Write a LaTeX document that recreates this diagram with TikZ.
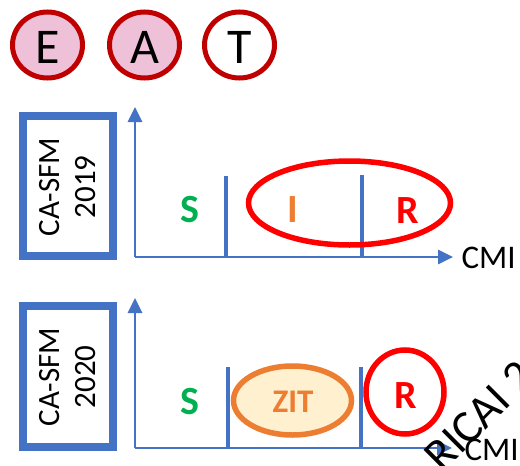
\documentclass[tikz,border=0pt]{standalone}
\usepackage{fontspec}
\setmainfont{Carlito}
\usetikzlibrary{arrows.meta}
\definecolor{axisblue}{HTML}{4472C4}
\definecolor{darkred}{HTML}{C00000}
\definecolor{pinkfill}{HTML}{EFC1D9}
\definecolor{sgreen}{HTML}{00B050}
\definecolor{iorange}{HTML}{ED7D31}
\definecolor{zitfill}{HTML}{FFF0CF}
\definecolor{rred}{HTML}{FF0000}
\tikzset{
  x=1pt, y=-1pt,
  axis/.style={draw=axisblue, line width=2.8pt, -{Triangle[length=15pt,width=14pt]}},
  divider/.style={draw=axisblue, line width=4.5pt},
  frame/.style={draw=axisblue, line width=8pt},
  boxlabel/.style={rotate=90, align=center, font=\fontsize{31}{36}\selectfont},
  cmi/.style={font=\fontsize{33}{38}\selectfont, text=black},
  big/.style={font=\fontsize{50}{54}\selectfont},
  stage/.style={font=\bfseries\fontsize{40}{44}\selectfont},
  ring/.style={line width=5.5pt},
}
\begin{document}
\begin{tikzpicture}
\useasboundingbox (0,0) rectangle (520,466);
\clip (0,0) rectangle (520,466);
\fill[white] (0,0) rectangle (520,466);

% E A T circles
\draw[darkred, line width=5pt, fill=pinkfill] (47.5,45) ellipse [x radius=35, y radius=33];
\draw[darkred, line width=5pt, fill=pinkfill] (144.5,45) ellipse [x radius=35, y radius=33];
\draw[darkred, line width=5pt, fill=white] (239.5,45) ellipse [x radius=35, y radius=33];
\node[big] (e) at (47.5,47) {E};
\node[big] (a) at (144.5,47) {A};
\node[big] (t) at (239.5,47) {T};

% ---- CA-SFM 2019 ----
\draw[frame] (23,116) rectangle (113,256);
\node[boxlabel] (lab1) at (68,187) {CA-SFM\\2019};
\coordinate (o1) at (135,257);
\coordinate (y1) at (135,107);
\coordinate (x1) at (453,257);
\draw[axis] (o1) -- (y1);
\draw[axis] (o1) -- (x1);
\draw[divider] (226,176) -- (226,257);
\draw[divider] (362,175) -- (362,257);
\node[stage, text=sgreen] (s1) at (190,210) {S};
\node[stage, text=iorange] (i1) at (293,210) {I};
\node[stage, text=rred] (r1) at (408,211) {R};
\draw[rred, ring] (349.5,203) ellipse [x radius=101, y radius=42];
\node[cmi, anchor=west] (cmi1) at (458,258) {CMI};

% ---- CA-SFM 2020 ----
\draw[frame] (23,306) rectangle (113,447);
\node[boxlabel] (lab2) at (68,377) {CA-SFM\\2020};
\coordinate (o2) at (135,448);
\coordinate (y2) at (135,298);
\coordinate (x2) at (452,448);
\draw[axis] (o2) -- (y2);
\draw[axis] (o2) -- (x2);
\draw[divider] (228,367) -- (228,448);
\draw[divider] (361,367) -- (361,448);
\node[stage, text=sgreen] (s2) at (190,402) {S};
\draw[iorange, ring, fill=zitfill] (292.5,400.5) ellipse [x radius=59, y radius=34.5];
\node[font=\bfseries\fontsize{33}{36}\selectfont, text=iorange] (zit) at (293,402) {ZIT};
\draw[rred, ring] (405,392) ellipse [x radius=39, y radius=42];
\node[stage, text=rred] (r2) at (406,396) {R};
\node[cmi, anchor=west] (cmi2) at (461,450) {CMI};

% conference stamp running off the corner
\node[font=\fontsize{46}{50}\selectfont, rotate=45, anchor=base west] (stamp) at (440,476) {RICAI 2020};
\end{tikzpicture}
\end{document}
